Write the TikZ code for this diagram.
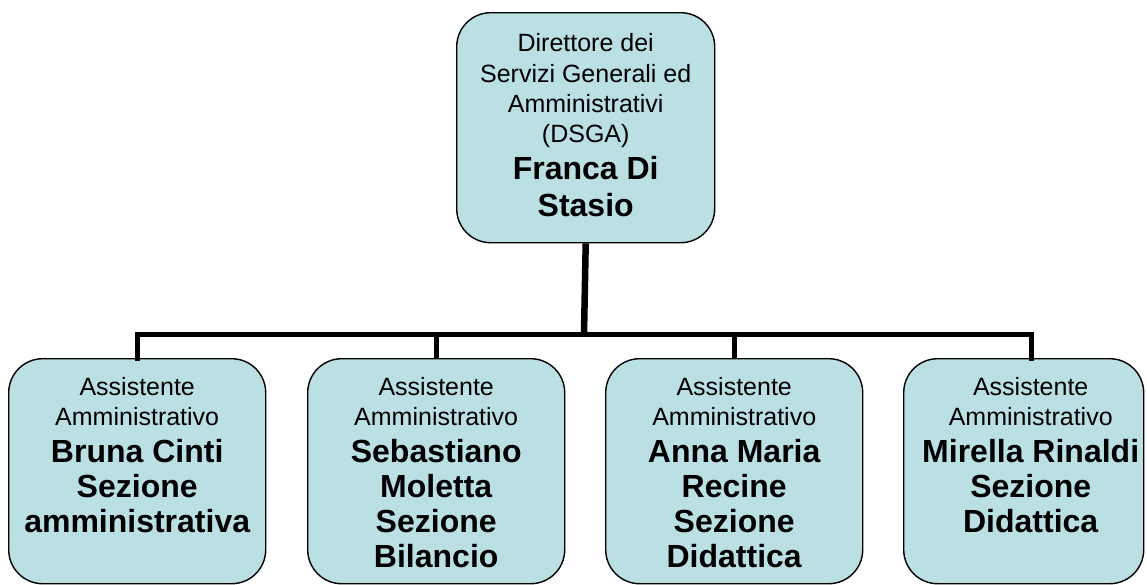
\documentclass[tikz,border=0pt]{standalone}
\usepackage{fontspec}
\setmainfont{Liberation Sans}
\definecolor{boxfill}{RGB}{186,224,227}
\newcommand\txtn{\fontsize{25}{30.3}\selectfont\mdseries}
\newcommand\txtb{\fontsize{32}{35}\selectfont\bfseries}
\newcommand\txtbt{\fontsize{32}{37}\selectfont\bfseries}
\begin{document}
\begin{tikzpicture}[x=1pt,y=-1pt,
  box/.style={draw=black, line width=1.4pt, fill=boxfill, rounded corners=34pt,
    inner sep=0pt, anchor=north west},
  conn/.style={draw=black, line width=5pt},
  trunk/.style={draw=black, line width=6.5pt}]
\useasboundingbox (0,0) rectangle (1147,584);
\node[box] (top) at (456,12) {\parbox[c][230pt][t]{258pt}{\centering\vspace*{21pt}%
  {\txtn Direttore dei\\Servizi Generali ed\\Amministrativi\\(DSGA)\par}%
  {\txtbt Franca Di\\Stasio\par}}};
\node[box] (b1) at (8,358) {\parbox[c][225pt][t]{257pt}{\centering\vspace*{18.5pt}%
  {\txtn Assistente\\Amministrativo\par}\vspace{1.5pt}%
  {\txtb Bruna Cinti\\Sezione\\amministrativa\par}}};
\node[box] (b2) at (307,358) {\parbox[c][225pt][t]{257pt}{\centering\vspace*{18.5pt}%
  {\txtn Assistente\\Amministrativo\par}\vspace{1.5pt}%
  {\txtb Sebastiano\\Moletta\\Sezione\\Bilancio\par}}};
\node[box] (b3) at (605,358) {\parbox[c][225pt][t]{257pt}{\centering\vspace*{18.5pt}%
  {\txtn Assistente\\Amministrativo\par}\vspace{1.5pt}%
  {\txtb Anna Maria\\Recine\\Sezione\\Didattica\par}}};
\node[box] (b4) at (903,358) {\hbox to 240pt{\hskip 14pt\parbox[c][225pt][t]{226pt}{\centering\vspace*{18.5pt}%
  {\txtn Assistente\\Amministrativo\par}\vspace{1.5pt}%
  {\txtb Mirella Rinaldi\\Sezione\\Didattica\par}}\hss}};
\coordinate (bus) at (584,334);
\coordinate (d4) at (1031,358);
\draw[trunk] (top.south) -- (bus);
\draw[conn, line cap=rect] (b1.north) |- (bus);
\draw[conn, line cap=rect] (d4) |- (bus);
\draw[conn] (b2.north) -- (b2.north |- bus);
\draw[conn] (b3.north) -- (b3.north |- bus);
\end{tikzpicture}
\end{document}
